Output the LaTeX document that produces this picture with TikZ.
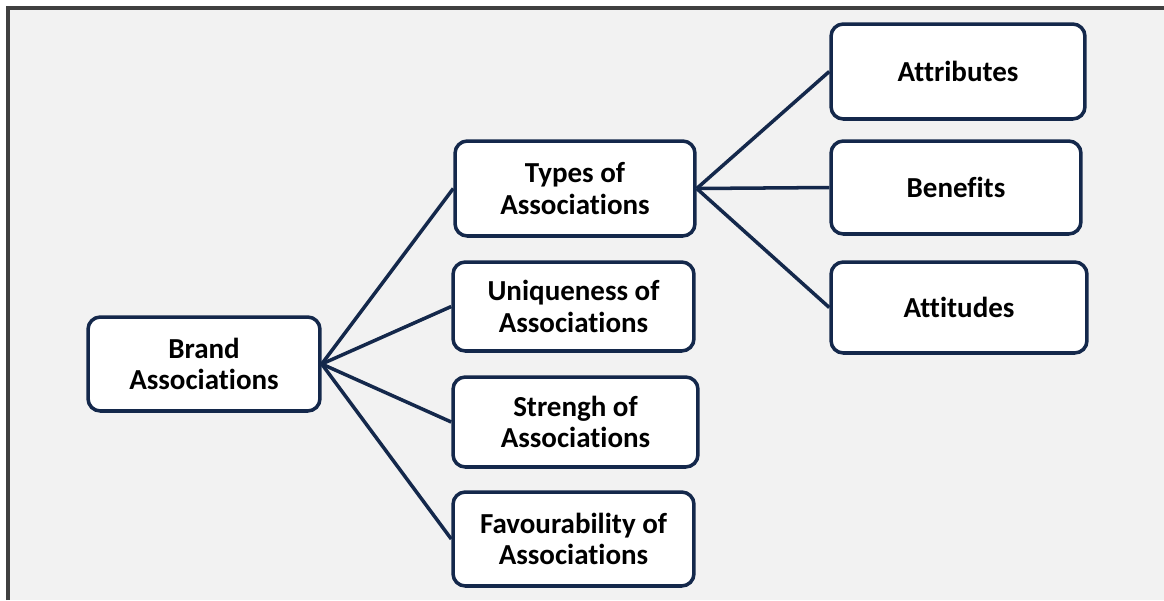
\documentclass[tikz,border=0pt]{standalone}
\usepackage{fontspec}
\setmainfont{Carlito}[Ligatures=NoCommon]
\usetikzlibrary{positioning}
\definecolor{navy}{HTML}{14284B}
\definecolor{panel}{HTML}{F2F2F2}
\definecolor{framegray}{HTML}{404040}

\begin{document}
\begin{tikzpicture}[x=0.02cm, y=-0.02cm, every node/.style={fill=white},
        n/.style={draw=navy, line width=2pt, rounded corners=7pt, align=center, inner sep=0pt,
            font=\fontsize{16.5}{18}\selectfont\bfseries},
        l/.style={navy, line width=2pt}]
        \useasboundingbox (0, 0) rectangle (1164, 600);
        \fill[panel] (8, 8) rectangle (1164, 600);
        \draw[framegray, line width=2.3pt] (8, 600) -- (8, 8) -- (1164, 8);

        \node[n, minimum width=4.64cm, minimum height=1.88cm] (brand) at (204, 364) {Brand\\Associations};
        \node[n, minimum width=4.8cm, minimum height=1.9cm] (types) at (575, 188.5) {Types of\\Associations};
        \node[n, minimum width=4.82cm, minimum height=1.78cm] (unique) at (573.5, 306.5) {Uniqueness of\\Associations};
        \node[n, minimum width=4.9cm, minimum height=1.8cm] (strength) at (575.5, 422) {Strengh of\\Associations};
        \node[n, minimum width=4.82cm, minimum height=1.88cm] (favour) at (573.5, 539) {Favourability of\\Associations};

        \node[n, minimum width=5.08cm, minimum height=1.9cm] (attrib) at (958, 71.5) {Attributes};
        \node[n, minimum width=5cm, minimum height=1.86cm] (benefit) at (956, 187.5) {Benefits};
        \node[n, minimum width=5.12cm, minimum height=1.82cm] (attitude) at (959, 307.5) {Attitudes};

        \draw[l] (brand.east) -- (types.west);
        \draw[l] (brand.east) -- (unique.west);
        \draw[l] (brand.east) -- (strength.west);
        \draw[l] (brand.east) -- (favour.west);
        \draw[l] (types.east) -- (attrib.west);
        \draw[l] (types.east) -- (benefit.west);
        \draw[l] (types.east) -- (attitude.west);
    \end{tikzpicture}
\end{document}
